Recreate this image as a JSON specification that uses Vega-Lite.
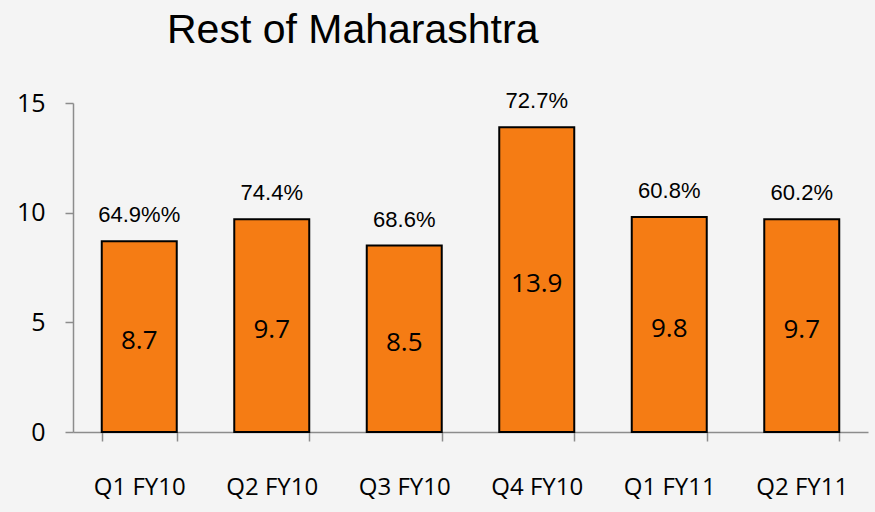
{
  "$schema": "https://vega.github.io/schema/vega-lite/v6.json",
  "width": 795,
  "height": 329,
  "autosize": "none",
  "padding": {"left": 73, "top": 103, "right": 7, "bottom": 80},
  "background": "#f4f4f4",
  "title": {
    "text": "Rest of Maharashtra",
    "font": "Liberation Sans",
    "fontSize": 41,
    "fontWeight": "normal",
    "color": "#000000",
    "anchor": "start",
    "frame": "group",
    "dx": 94,
    "dy": 21,
    "baseline": "alphabetic",
    "offset": 27
  },
  "config": {
    "view": {"stroke": null},
    "axis": {"grid": false}
  },
  "data": {
    "values": [
      {"quarter": "Q1 FY10", "value": 8.7, "label": "8.7", "pct": "64.9%%"},
      {"quarter": "Q2 FY10", "value": 9.7, "label": "9.7", "pct": "74.4%"},
      {"quarter": "Q3 FY10", "value": 8.5, "label": "8.5", "pct": "68.6%"},
      {"quarter": "Q4 FY10", "value": 13.9, "label": "13.9", "pct": "72.7%"},
      {"quarter": "Q1 FY11", "value": 9.8, "label": "9.8", "pct": "60.8%"},
      {"quarter": "Q2 FY11", "value": 9.7, "label": "9.7", "pct": "60.2%"}
    ]
  },
  "encoding": {
    "x": {
      "field": "quarter",
      "type": "nominal",
      "sort": null,
      "scale": {"paddingInner": 0.434, "paddingOuter": 0.217},
      "axis": {
        "title": null,
        "labelAngle": 0,
        "labelFont": "Open Sans",
        "labelFontSize": 24,
        "labelColor": "#000000",
        "labelPadding": 34,
        "tickBand": "extent",
        "tickSize": 9,
        "tickColor": "#8c8c8c",
        "tickWidth": 1.5,
        "domainColor": "#8c8c8c",
        "domainWidth": 1.5
      }
    }
  },
  "layer": [
    {
      "mark": {"type": "bar", "color": "#F57C14", "stroke": "#000000", "strokeWidth": 2},
      "encoding": {
        "y": {
          "field": "value",
          "type": "quantitative",
          "scale": {"domain": [0, 15]},
          "axis": {
            "title": null,
            "values": [0, 5, 10, 15],
            "labelFont": "Open Sans",
            "labelFontSize": 25,
            "labelColor": "#000000",
            "labelPadding": 20,
            "tickSize": 8,
            "tickColor": "#8c8c8c",
            "tickWidth": 1.5,
            "domainColor": "#8c8c8c",
            "domainWidth": 1.5
          }
        }
      }
    },
    {
      "mark": {"type": "text", "font": "Liberation Sans", "fontSize": 22, "color": "#000000", "baseline": "middle", "dy": -26},
      "encoding": {
        "y": {"field": "value", "type": "quantitative", "scale": {"domain": [0, 15]}, "axis": null},
        "text": {"field": "pct"}
      }
    },
    {
      "mark": {"type": "text", "font": "Open Sans", "fontSize": 26, "color": "#000000", "baseline": "middle", "dy": 4},
      "encoding": {
        "y": {"field": "value", "type": "quantitative", "scale": {"domain": [0, 30]}, "axis": null},
        "text": {"field": "label"}
      }
    }
  ],
  "resolve": {"scale": {"y": "independent"}}
}
